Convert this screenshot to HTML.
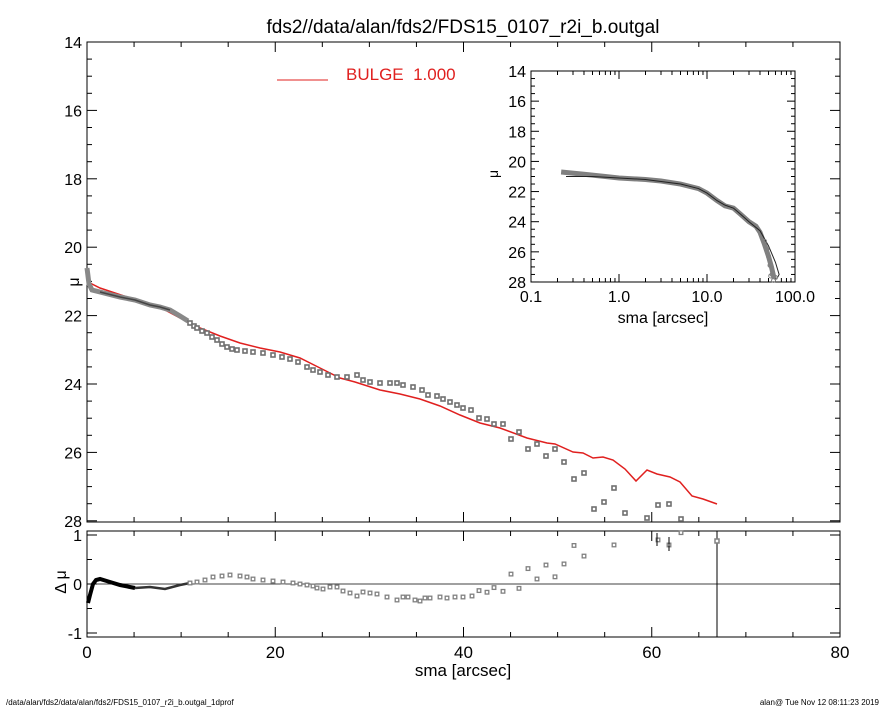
<!DOCTYPE html>
<html><head><meta charset="utf-8"><style>
html,body{margin:0;padding:0;background:#fff;}
svg{display:block;font-family:"Liberation Sans",sans-serif;}
</style></head><body>
<svg id="s" width="885" height="708" xmlns="http://www.w3.org/2000/svg">
<rect width="885" height="708" fill="#fff"/>
<text x="463" y="33" font-size="19" text-anchor="middle">fds2//data/alan/fds2/FDS15_0107_r2i_b.outgal</text>
<g id="ax" stroke="#000" stroke-width="1" fill="none"></g>
<g id="tx" font-size="16" fill="#000"></g>
<line x1="277" y1="80" x2="328" y2="80" stroke="#e0201f" stroke-width="1"/>
<text x="346" y="80" font-size="17" fill="#e0201f">BULGE&#160;&#160;1.000</text>
<text x="75" y="286" font-size="16" text-anchor="middle" transform="rotate(-90 75 282)">μ</text>
<text x="62" y="590" font-size="16" text-anchor="middle" transform="rotate(-90 60 584)">Δ μ</text>
<text x="463" y="676" font-size="17" text-anchor="middle">sma [arcsec]</text>
<text x="497" y="183" font-size="14" text-anchor="middle" transform="rotate(-90 493 178)">μ</text>
<text x="663" y="323" font-size="16" text-anchor="middle">sma [arcsec]</text>
<text x="6" y="705" font-size="8">/data/alan/fds2/data/alan/fds2/FDS15_0107_r2i_b.outgal_1dprof</text>
<text x="879" y="705" font-size="8" text-anchor="end">alan@  Tue Nov 12 08:11:23 2019</text>
<g id="dat"></g>
</svg>
<script>
var NS="http://www.w3.org/2000/svg",ax=document.getElementById('ax'),tx=document.getElementById('tx'),dat=document.getElementById('dat');
function el(p,t,a){var e=document.createElementNS(NS,t);for(var k in a)e.setAttribute(k,a[k]);p.appendChild(e);return e;}
function L(p,x1,y1,x2,y2,c,w){return el(p,'line',{x1:x1,y1:y1,x2:x2,y2:y2,stroke:c||'#000','stroke-width':w||1});}
function T(x,y,s,a,fs){var e=el(tx,'text',{x:x,y:y,'text-anchor':a||'middle','font-size':fs||16});e.textContent=s;}
var X0=87,X1=840,Y0=42,Y1=522,R0=531,R1=637;
el(ax,'rect',{x:X0,y:Y0,width:X1-X0,height:Y1-Y0});
el(ax,'rect',{x:X0,y:R0,width:X1-X0,height:R1-R0});
function xp(v){return X0+v*(X1-X0)/80;}
for(var v=0;v<=80;v+=5){var x=xp(v),l=v%20==0?10:5;
 L(ax,x,Y1,x,Y1-l);L(ax,x,Y0,x,Y0+l);L(ax,x,R1,x,R1-l);L(ax,x,R0,x,R0+l);
 if(v%20==0)T(x,658,String(v),'middle',17);}
function yp(m){return 42+(m-14)*34.2;}
for(var m=14;m<=28.01;m+=0.5){var y=yp(m),l=(m%2==0)?10:5;L(ax,X0,y,X0+l,y);L(ax,X1,y,X1-l,y);
 if(m%2==0)T(82,y+6,String(m),'end',16);}
function rp(d){return 584-d*49;}
[-1,-0.5,0,0.5,1].forEach(function(d){var l=(d%1==0)?10:5;L(ax,X0,rp(d),X0+l,rp(d));L(ax,X1,rp(d),X1-l,rp(d));});
T(82,541,'1','end',16);T(82,590,'0','end',16);T(82,639,'-1','end',16);
L(ax,X0,584,X1,584,'#000',0.8);
var IX0=531,IX1=795,IY0=71,IY1=282;
el(ax,'rect',{x:IX0,y:IY0,width:IX1-IX0,height:IY1-IY0,fill:'#fff'});
function lx(s){return IX0+(Math.log10(s)+1)*88;}
function ly(m){return IY0+(m-14)*15.07;}
for(var d=-1;d<2;d++)for(var k=1;k<10;k++){var x=lx(k*Math.pow(10,d)),l=k==1?8:4;if(x>IX1)break;L(ax,x,IY1,x,IY1-l);L(ax,x,IY0,x,IY0+l);}
['0.1','1.0','10.0','100.0'].forEach(function(s,i){T(IX0+i*88,302,s,'middle',16);});
for(var m=14;m<=28.01;m+=0.5){var y=ly(m),l=(m%2==0)?8:4;L(ax,IX0,y,IX0+l,y);L(ax,IX1,y,IX1-l,y);if(m%2==0)T(526,y+6,String(m),'end',16);}
var red=[[88,282],[100,288],[130,298],[150,304],[165,310],[180,318],[200,328],[220,336],[240,343],[260,348],[280,352],[300,358],[320,368],[340,378],[355,382],[380,390],[400,394],[420,399],[440,406],[460,415],[480,423],[500,428],[527,438],[547,443],[555,444],[573,452],[583,453],[593,458],[603,457],[613,460],[625,469],[636,481],[647,470],[657,474],[670,477],[680,482],[692,496],[703,499],[717,504]];
function redAt(x){for(var i=1;i<red.length;i++)if(red[i][0]>=x){var a=red[i-1],b=red[i],t=(x-a[0])/(b[0]-a[0]);return a[1]+t*(b[1]-a[1]);}return red[red.length-1][1];}
el(dat,'polyline',{points:red.map(function(p){return p.join(',')}).join(' '),fill:'none',stroke:'#e0201f','stroke-width':1.5});
var band=[[87,268],[89,284],[92,290],[100,292],[120,297],[135,300],[150,305],[160,307],[170,310],[180,316],[188,321]];
el(dat,'polyline',{points:band.map(function(p){return p.join(',')}).join(' '),fill:'none',stroke:'#888','stroke-width':5});
el(dat,'polyline',{points:band.slice(3,9).map(function(p){return p[0]+','+(p[1])}).join(' '),fill:'none',stroke:'#444','stroke-width':1.5});
var sq=[[190,323],[194,326],[197,328],[202,331],[207,333],[212,337],[217,340],[222,344],[227,347],[232,349],[237,350],[245,351],[253,352],[263,353],[273,355],[282,357],[290,359],[298,362],[307,367],[313,370],[320,372],[328,375],[337,377],[347,377],[357,375],[363,380],[370,382],[380,383],[390,383],[397,383],[403,385],[413,387],[422,390],[428,395],[437,396],[443,399],[450,402],[457,405],[463,408],[471,410],[479,418],[487,419],[494,424],[503,424],[511,439],[519,432],[528,449],[537,444],[546,456],[555,449],[564,462],[574,479],[584,473],[594,509],[604,502],[614,488],[625,513],[647,518],[658,505],[669,504],[681,519]];
sq.forEach(function(p){el(dat,'rect',{x:p[0]-2,y:p[1]-2,width:4,height:4,fill:'#fff',stroke:'#707070','stroke-width':1.6});});
var rl=[[88,603],[90,595],[93,584],[96,580],[100,579],[110,582],[120,585],[135,588]];
el(dat,'polyline',{points:rl.map(function(p){return p.join(',')}).join(' '),fill:'none',stroke:'#000','stroke-width':4});
el(dat,'polyline',{points:[[135,588],[150,587],[165,589],[180,585],[190,583]].map(function(p){return p.join(',')}).join(' '),fill:'none',stroke:'#333','stroke-width':2.5});
var rs=[[190,583],[197,582],[205,580],[213,577],[222,576],[230,575],[240,576],[247,577],[253,579],[263,580],[273,581],[283,582],[293,583],[300,584],[307,585],[313,586],[317,588],[323,589],[330,587],[337,587],[343,591],[350,593],[357,596],[363,592],[370,593],[377,594],[387,597],[397,600],[403,597],[408,597],[415,600],[420,601],[425,598],[430,598],[440,597],[447,598],[455,597],[463,597],[472,596]];
rs.forEach(function(p){el(dat,'rect',{x:p[0]-1.8,y:p[1]-1.8,width:3.6,height:3.6,fill:'#fff',stroke:'#808080','stroke-width':1.3});});
sq.forEach(function(p){if(p[0]<479)return;var d=(p[1]-redAt(p[0]))/34.2,y=rp(d);if(y<531)return;el(dat,'rect',{x:p[0]-1.8,y:y-1.8,width:3.6,height:3.6,fill:'#fff',stroke:'#808080','stroke-width':1.3});});
L(dat,657,533,657,546,'#000',1);L(dat,669,537,669,551,'#000',1);L(dat,717,531,717,637,'#000',1);
el(dat,'rect',{x:715,y:539,width:4,height:4,fill:'#fff',stroke:'#808080','stroke-width':1.5});
var ib=[[0.22,20.7],[0.4,20.85],[0.7,21.0],[1,21.1],[2,21.2],[3,21.3],[5,21.5],[8,21.8],[10,22.1],[13,22.6],[16,22.95],[20,23.1],[24,23.5],[30,24.0],[36,24.3],[40,24.7],[45,25.5],[50,26.3],[54,27.0],[58,27.8]];
el(dat,'polyline',{points:ib.map(function(p){return lx(p[0])+','+ly(p[1])}).join(' '),fill:'none',stroke:'#808080','stroke-width':5});
var il=[[0.25,21.0],[0.5,21.0],[1,21.1],[2,21.2],[5,21.5],[8,21.8],[10,22.1],[13,22.6],[16,22.9],[20,23.1],[24,23.5],[30,24.0],[40,24.6],[50,25.6],[60,26.7],[66,27.5],[62,27.8]];
el(dat,'polyline',{points:il.map(function(p){return lx(p[0])+','+ly(p[1])}).join(' '),fill:'none',stroke:'#222','stroke-width':1});
[[45,25.3],[48,25.8],[50,26.3],[52,26.9],[55,27.5],[57,27.9],[53,27.6],[60,27.7]].forEach(function(p){el(dat,'circle',{cx:lx(p[0]),cy:ly(p[1]),r:2,fill:'none',stroke:'#808080','stroke-width':1});});
</script>
</body></html>
